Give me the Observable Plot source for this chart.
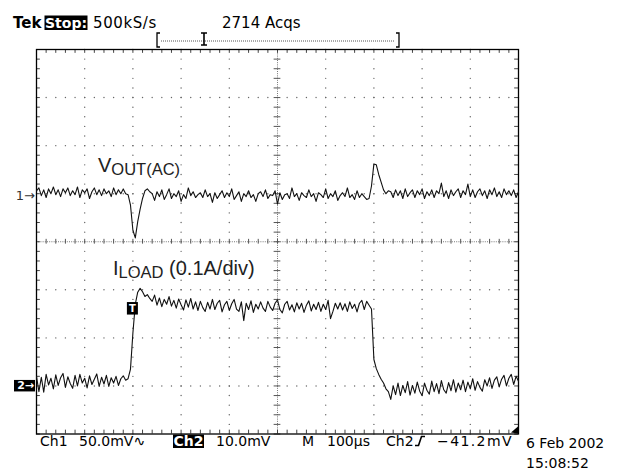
<!DOCTYPE html>
<html>
<head>
<meta charset="utf-8">
<script src="https://cdn.jsdelivr.net/npm/d3@7"></script>
<script src="https://cdn.jsdelivr.net/npm/@observablehq/plot@0.6"></script>
<style>
  html, body { margin: 0; padding: 0; background: #fff; }
  #chart svg { display: block; }
</style>
</head>
<body>
<div id="chart"></div>
<script>
// ---- Acquisition settings ----
const sampleUs = 5;            // one sample every 5 µs, 0..1000 µs (10 div × 100 µs)
const timePerDivUs = 100;
const ch1VoltsPerDiv = 50;     // mV/div
const ch2VoltsPerDiv = 10;     // mV/div  (0.1 A/div)
const ch1Offset = 0.96;        // ground marker position, div
const ch2Offset = -3;          // ground marker position, div
const triggerUs = 200;

// ---- Ch1: VOUT(AC), mV ----
const ch1mV = [
  5,8,0,6,-2,7,2,9,1,6, -1,7,3,8,0,5,1,9,-2,6, 3,7,-3,4,8,1,6,0,7,2, 5,-1,8,1,6,2,7,2,
  1,-10,-36,-44,-27,-14,-3,5,7,4,
  2,-5,4,-1,6,-4,1,7,-3,2, -1,5,-6,1,-3,8,0,4,-2,1, 3,-2,6,-1,2,-7,3,-3,1,5,
  -2,3,-1,7,-4,0,4,-6,2,-1, 5,-2,1,-6,2,4,-1,6,-3,1, 0,5,-9,3,-4,1,2,-3,8,-1,
  2,-5,3,0,-2,6,-1,2,-6,3, 1,-2,7,-3,2,-1,5,-5,0,3, -1,8,-2,1,-4,5,-2,2,-1,-4, -3,
  10,33,32,22,14,6,2,5,
  4,-2,6,0,5,-3,7,-1,3,6, -2,5,1,7,-3,4,0,6,-2,5, 2,13,-1,5,-3,6,0,4,7,-2,
  5,1,12,-1,6,-2,4,7,0,5, -3,6,1,8,-1,4,-2,7,1,5, 0,6,-2,4
];

// ---- Ch2: ILOAD sense, mV ----
const ch2mV = [
  2.0,-1.2,1.8,-1.3,2.4,0.2,1.6,-0.6,2.3,0.1, 1.7,2.6,-0.3,1.9,0.5,-0.5,2.2,0.0,2.4,0.6,
  1.6,-0.4,2.1,0.3,1.4,2.5,-0.1,1.8,0.4,2.2, -0.1,1.7,0.6,2.0,0.1,1.5,2.1,1.2,
  1.5,3.5,11,17,19.5,20.3,19.6,18.6,19.0,18.2,
  17.6,18.9,16.8,18.3,16.5,18.0,17.0,18.6,16.6,17.8, 16.2,18.1,16.9,15.8,17.9,16.4,18.2,16.0,17.5,15.7,
  17.6,16.3,15.5,17.4,16.0,18.0,15.9,17.2,17.8,15.4, 16.9,17.6,15.7,17.1,18.0,16.0,15.5,17.5,13.6,17.2,
  15.9,17.7,15.3,17.0,16.0,17.5,16.2,15.5,17.6,16.4, 15.7,17.2,17.9,15.9,15.2,17.0,17.6,15.8,16.9,15.4,
  17.3,16.0,17.2,15.3,16.8,17.7,15.6,17.0,15.9,17.4, 15.5,17.0,15.9,17.8,14.0,15.5,17.2,16.0,17.3,15.8,
  17.1,15.5,17.5,16.1,17.0,15.4,17.2,17.8,15.9,17.6, 16.8,
  16.0,5.5,3.6,2.4,1.4,0.6,-0.6,-1.2,
  -2.8,0.0,-1.8,0.6,-2.0,0.1,-1.4,0.9,-1.9,0.1, -1.5,0.8,-1.1,-2.0,0.6,-0.9,-1.7,1.0,-1.2,0.5,
  -1.6,1.1,-0.8,-1.5,0.7,-1.0,1.3,-1.3,0.6,-0.8, 1.2,-1.2,0.8,-0.6,1.5,-0.9,0.9,-0.3,-1.1,1.3,
  0.0,1.7,-0.5,1.2,1.9,-0.2,1.4,2.2,0.0,1.6, 2.4,0.3,2.0,1.0
];

// ---- Screen readouts ----
const headerTexts = ["Tek", "Stop:", "500kS/s", "2714 Acqs"];
const footerTexts = ["Ch1", "50.0mV\u223F", "Ch2", "10.0mV", "M", "100\u00B5s", "Ch2", "\u221241.2mV"];
const dateTexts = ["6 Feb 2002", "15:08:52"];

// ---- Derived tables ----
const ch1 = ch1mV.map((v, i) => ({t: i * sampleUs, y: ch1Offset + v / ch1VoltsPerDiv}));
const ch2 = ch2mV.map((v, i) => ({t: i * sampleUs, y: ch2Offset + v / ch2VoltsPerDiv}));

// graticule (10 × 8 divisions, 5 minor per division)
const xMax = 10 * timePerDivUs;
const minorX = d3.range(0, xMax + 0.1, timePerDivUs / 5);
const minorY = d3.range(-4, 4.001, 0.2);
const majorXNoCenter = d3.range(timePerDivUs, xMax, timePerDivUs).filter(d => d !== xMax / 2);
const majorYNoCenter = [-3, -2, -1, 1, 2, 3];
const gridDots = [
  ...d3.cross(minorX, majorYNoCenter).map(([x, y]) => ({x, y})),
  ...d3.cross(majorXNoCenter, minorY).map(([x, y]) => ({x, y}))
];
const tk = 0.08;           // edge tick length, div
const tkX = tk * timePerDivUs;

const plot = Plot.plot({
  width: 625,
  height: 472,
  marginTop: 49,
  marginBottom: 38.5,
  marginLeft: 36,
  marginRight: 107,
  x: {domain: [0, xMax], axis: null},
  y: {domain: [-4, 4], axis: null},
  style: {background: "#fff", overflow: "visible"},
  marks: [
    Plot.dot(gridDots, {x: "x", y: "y", r: 0.7, fill: "#666", stroke: null}),
    Plot.ruleY([0], {stroke: "#777", strokeDasharray: "1,1.2"}),
    Plot.ruleX([xMax / 2], {stroke: "#777", strokeDasharray: "1,1.2"}),
    Plot.ruleX(minorX, {x: d => d, y1: -0.05, y2: 0.05, stroke: "#555"}),
    Plot.ruleY(minorY, {y: d => d, x1: xMax / 2 - 7, x2: xMax / 2 + 7, stroke: "#555"}),
    Plot.ruleX(minorX, {x: d => d, y1: 4, y2: 4 - tk, stroke: "#444"}),
    Plot.ruleX(minorX, {x: d => d, y1: -4, y2: -4 + tk, stroke: "#444"}),
    Plot.ruleY(minorY, {y: d => d, x1: 0, x2: tkX, stroke: "#444"}),
    Plot.ruleY(minorY, {y: d => d, x1: xMax, x2: xMax - tkX, stroke: "#444"}),
    Plot.frame({stroke: "#000", strokeWidth: 1.3}),
    Plot.line(ch1, {x: "t", y: "y", stroke: "#111", strokeWidth: 1.1}),
    Plot.line(ch2, {x: "t", y: "y", stroke: "#111", strokeWidth: 1.1})
  ]
});
document.getElementById("chart").appendChild(plot);

const sx = plot.scale("x").apply, sy = plot.scale("y").apply;
const svg = d3.select(plot);
const scopeFont = "'DejaVu Sans', Verdana, sans-serif";
const labelFont = "'Liberation Sans', Arial, Helvetica, sans-serif";

function txt(x, y, s, size, opts = {}) {
  const t = svg.append("text").attr("x", x).attr("y", y).text(s)
    .attr("font-family", opts.font || scopeFont).attr("font-size", size)
    .attr("font-weight", opts.bold ? "bold" : "normal")
    .attr("fill", opts.fill || "#000")
    .attr("text-anchor", opts.anchor || "start");
  if (opts.spacing) t.attr("letter-spacing", opts.spacing);
  return t;
}
function boxText(x, y, w, h, s, size, opts = {}) {
  svg.append("rect").attr("x", x).attr("y", y).attr("width", w).attr("height", h).attr("fill", "#000");
  return txt(opts.tx ?? x + w / 2, opts.ty ?? y + h - 2, s, size, {bold: opts.bold, fill: "#fff", anchor: opts.anchor || "middle"});
}

// header
txt(13, 28, headerTexts[0], 15, {bold: true});
boxText(44.5, 15.5, 43, 14.5, headerTexts[1], 14, {bold: true, ty: 28});
txt(93, 28, headerTexts[2], 15, {spacing: 0.6});
txt(222, 28, headerTexts[3], 15);
// record-position bracket
const br = svg.append("g").attr("fill", "none").attr("stroke", "#000");
br.append("path").attr("d", "M160,33H157V47H160").attr("stroke-width", 1.3);
br.append("path").attr("d", "M396,33H399V47H396").attr("stroke-width", 1.3);
br.append("line").attr("x1", 161).attr("x2", 395).attr("y1", 41).attr("y2", 41)
  .attr("stroke", "#555").attr("stroke-dasharray", "1,1");
br.append("path").attr("d", "M201,33H207M204,33V45M201,45H207").attr("stroke-width", 1.6);

// footer
txt(40, 446, footerTexts[0], 14);
txt(79, 446, footerTexts[1], 14);
boxText(173, 434.5, 31, 13.5, footerTexts[2], 14, {bold: true, ty: 446});
txt(216, 446, footerTexts[3], 14);
txt(302, 446, footerTexts[4], 14);
txt(327, 446, footerTexts[5], 14);
txt(386, 446, footerTexts[6], 14);
svg.append("path").attr("d", "M415,445.5H418.5L421.5,436.5H425").attr("fill", "none")
  .attr("stroke", "#000").attr("stroke-width", 1.6);
txt(437, 446, footerTexts[7], 14, {spacing: 1.4});
txt(526, 448, dateTexts[0], 14);
txt(526, 468, dateTexts[1], 14);
// trigger level indicator (off-screen below), right edge
svg.append("path").attr("d", `M${sx(xMax)},${sy(-4) - 7}L${sx(xMax) - 7},${sy(-4) - 1}L${sx(xMax)},${sy(-4)}Z`).attr("fill", "#000");

// channel ground markers
txt(sx(0) - 1, sy(ch1Offset) + 4.5, "1\u2192", 13, {anchor: "end", fill: "#333"});
boxText(sx(0) - 22, sy(ch2Offset) - 5.5, 21, 11.5, "2\u2192", 11, {bold: true, anchor: "end", tx: sx(0) - 2, ty: sy(ch2Offset) + 4});
// trigger point marker
boxText(sx(triggerUs) - 5.5, sy(ch2Offset + 16.1 / ch2VoltsPerDiv) - 6, 11, 12.5, "T", 10, {bold: true, ty: sy(ch2Offset + 16.1 / ch2VoltsPerDiv) + 4});

// trace labels
const l1 = svg.append("text").attr("x", 98).attr("y", 172).attr("text-anchor", "start")
  .attr("font-family", labelFont).attr("fill", "#222");
l1.append("tspan").attr("font-size", 20).text("V");
l1.append("tspan").attr("font-size", 16.5).attr("dy", 3).text("OUT(AC)");
const l2 = svg.append("text").attr("x", 113).attr("y", 275).attr("text-anchor", "start")
  .attr("font-family", labelFont).attr("fill", "#222");
l2.append("tspan").attr("font-size", 20).text("I");
l2.append("tspan").attr("font-size", 16.5).attr("dy", 3).text("LOAD");
l2.append("tspan").attr("font-size", 20).attr("dy", -3).text(" (0.1A/div)");
</script>
</body>
</html>
